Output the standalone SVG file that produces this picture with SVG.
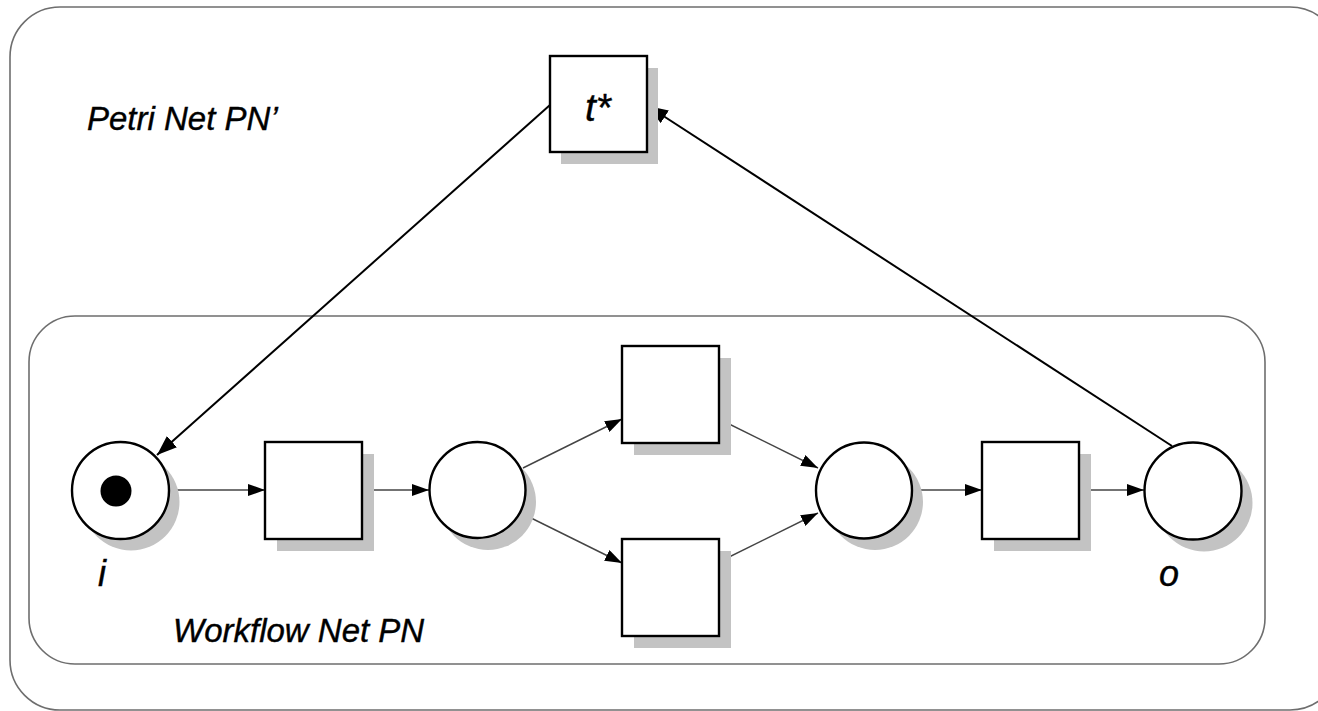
<svg xmlns="http://www.w3.org/2000/svg" width="1318" height="711" viewBox="0 0 1318 711">
<defs>
<style>
.frame{fill:none;stroke:#6e6e6e;stroke-width:1.6}
.sh{fill:#c3c3c3;stroke:none}
.node{fill:#fff;stroke:#000;stroke-width:2.4}
.arc{fill:none;stroke:#444;stroke-width:1.4}
.arcb{fill:none;stroke:#000;stroke-width:2}
.lbl{font-family:"Liberation Sans",Arial,sans-serif;font-style:italic;fill:#000;stroke:#000;stroke-width:0.4}
</style>
<marker id="ah" viewBox="0 0 17 12" refX="17" refY="6" markerWidth="17" markerHeight="12" markerUnits="userSpaceOnUse" orient="auto">
<path d="M0,0 L17,6 L0,12 Z" fill="#000"/>
</marker>
<marker id="ahb" viewBox="0 0 20 15" refX="20" refY="7.5" markerWidth="20" markerHeight="15" markerUnits="userSpaceOnUse" orient="auto">
<path d="M0,0 L20,7.5 L0,15 Z" fill="#000"/>
</marker>
</defs>
<rect width="1318" height="711" fill="#fff"/>
<g id="outer-frame">
<rect class="frame" x="10" y="7" width="1330" height="703" rx="50" ry="50"/>
<text class="lbl" x="87" y="130" font-size="33">Petri Net PN’</text>
</g>
<g id="workflow-frame">
<rect class="frame" x="29" y="316" width="1236" height="348" rx="46" ry="46"/>
<text class="lbl" x="173" y="642" font-size="33">Workflow Net PN</text>
</g>
<g id="connectors">
<line class="arcb" x1="550" y1="105" x2="157" y2="455" marker-end="url(#ahb)"/>
<line class="arcb" x1="1172" y1="446" x2="648" y2="106" marker-end="url(#ahb)"/>
<line class="arc" x1="169" y1="490" x2="265" y2="490" marker-end="url(#ah)"/>
<line class="arc" x1="362" y1="490" x2="429" y2="490" marker-end="url(#ah)"/>
<line class="arc" x1="523" y1="468" x2="622" y2="419" marker-end="url(#ah)"/>
<line class="arc" x1="523" y1="514" x2="622" y2="563" marker-end="url(#ah)"/>
<line class="arc" x1="719" y1="419" x2="818" y2="468" marker-end="url(#ah)"/>
<line class="arc" x1="719" y1="562" x2="818" y2="513" marker-end="url(#ah)"/>
<line class="arc" x1="912" y1="490" x2="982" y2="490" marker-end="url(#ah)"/>
<line class="arc" x1="1080" y1="490" x2="1144" y2="490" marker-end="url(#ah)"/>
</g>
<g id="t-star">
<rect class="sh" x="561" y="68" width="97" height="96"/>
<rect class="node" x="550" y="56" width="97" height="96"/>
<text class="lbl" x="598" y="121" font-size="39" text-anchor="middle">t*</text>
</g>
<g id="place-i">
<circle class="sh" cx="131" cy="502" r="48.5"/>
<circle class="node" cx="120.5" cy="490.5" r="48.5"/>
<circle cx="116" cy="491" r="15.5" fill="#000"/>
<text class="lbl" x="102" y="586" font-size="36" text-anchor="middle">i</text>
</g>
<g id="t1">
<rect class="sh" x="277" y="454" width="97" height="97"/>
<rect class="node" x="265" y="442" width="97" height="97"/>
</g>
<g id="p2">
<circle class="sh" cx="488" cy="502" r="48"/>
<circle class="node" cx="477.5" cy="490" r="48"/>
</g>
<g id="t2">
<rect class="sh" x="634" y="358" width="97" height="97"/>
<rect class="node" x="622" y="346" width="97" height="97"/>
</g>
<g id="t3">
<rect class="sh" x="634" y="551" width="97" height="97"/>
<rect class="node" x="622" y="539" width="97" height="97"/>
</g>
<g id="p3">
<circle class="sh" cx="875" cy="502" r="48"/>
<circle class="node" cx="864" cy="490.5" r="48"/>
</g>
<g id="t4">
<rect class="sh" x="994" y="454" width="97" height="97"/>
<rect class="node" x="982" y="442" width="97" height="97"/>
</g>
<g id="place-o">
<circle class="sh" cx="1204" cy="503" r="48.5"/>
<circle class="node" cx="1193" cy="491" r="48.5"/>
<text class="lbl" x="1169" y="586" font-size="36" text-anchor="middle">o</text>
</g>
</svg>
